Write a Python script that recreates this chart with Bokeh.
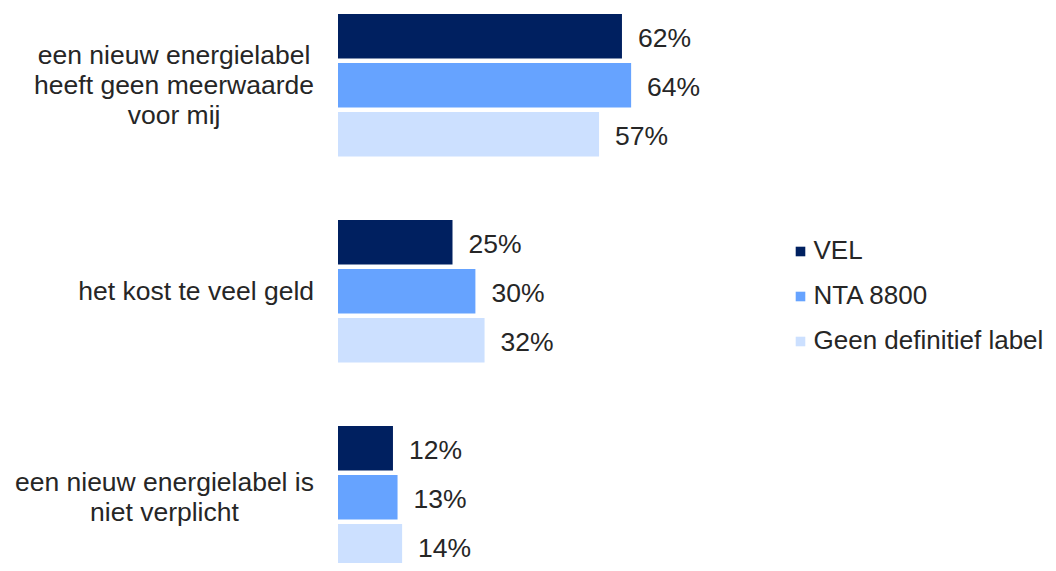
from bokeh.plotting import figure
from bokeh.models import ColumnDataSource, Range1d, Legend, LegendItem
from bokeh.core.properties import value
from bokeh.embed import file_html
from bokeh.resources import INLINE

# ---- data ----
categories = [
    "een nieuw energielabel\nheeft geen meerwaarde\nvoor mij",
    "het kost te veel geld",
    "een nieuw energielabel is\nniet verplicht",
]
series_names = ["VEL", "NTA 8800", "Geen definitief label"]
vel = [62, 25, 12]
nta = [64, 30, 13]
geen = [57, 32, 14]
colors = ["#002060", "#66A3FF", "#CCE0FF"]

FONT = "Liberation Sans"
TXT = "#262626"
FS = "26.5px"

W, H = 1048, 563
p = figure(width=W, height=H, output_backend="svg", toolbar_location=None,
           x_range=Range1d(-73.69, 155.13), y_range=Range1d(2.3214, -0.4117),
           min_border=0, outline_line_color=None, background_fill_color="white",
           border_fill_color="white")
p.xaxis.visible = False
p.yaxis.visible = False
p.grid.visible = False

group_pos = list(range(len(categories)))
offsets = [-0.2379, 0.0, 0.2379]
bar_h = 0.216

legend_items = []
for name, vals, col, off in zip(series_names, [vel, nta, geen], colors, offsets):
    src = ColumnDataSource(dict(
        y=[g + off for g in group_pos],
        v=vals,
        lab=[f"{v}%" for v in vals],
    ))
    r = p.hbar(y="y", left=0, right="v", height=bar_h, source=src,
               fill_color=col, line_color=None)
    p.text(x="v", y="y", text="lab", source=src, x_offset=16, y_offset=2,
           text_align="left", text_baseline="middle",
           text_font=value(FONT), text_font_size=FS, text_color=TXT)
    legend_items.append(LegendItem(label=name, renderers=[r]))

cat_src = ColumnDataSource(dict(y=group_pos, t=categories))
p.text(x=0, y="y", text="t", source=cat_src, x_offset=-24,
       anchor="center_right", text_align="center", text_baseline="middle",
       text_line_height=1.0,
       text_font=value(FONT), text_font_size=FS, text_color=TXT)

legend = Legend(items=legend_items, location=(793.5, 207),
                glyph_width=12, glyph_height=12, label_standoff=8,
                label_height=30, spacing=14, padding=0, margin=0,
                border_line_color=None, background_fill_alpha=0,
                label_text_font=FONT, label_text_font_size="26px",
                label_text_color=TXT)
p.add_layout(legend, "center")

open("out.html", "w").write(file_html(p, INLINE))
